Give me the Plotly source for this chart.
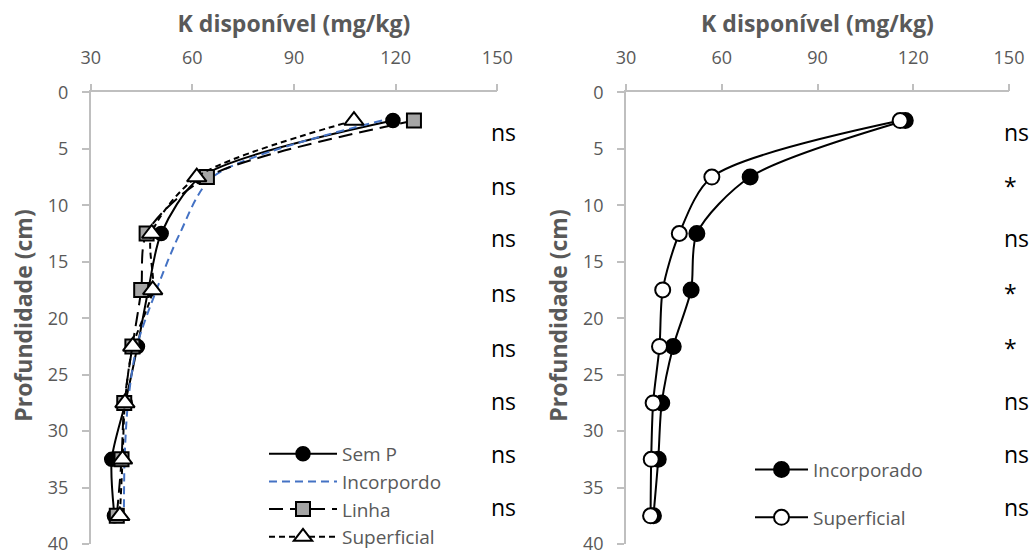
import plotly.graph_objects as go

depth = [2.5, 7.5, 12.5, 17.5, 22.5, 27.5, 32.5, 37.5]

# Left panel
sem_p = [119.2, 62.5, 50.8, 47.0, 43.8, 40.2, 36.2, 37.0]
incorpordo = [116.0, 66.0, 56.3, 49.4, 43.6, 41.0, 40.0, 39.8]
linha = [125.4, 64.3, 46.5, 44.9, 42.3, 39.9, 39.1, 37.7]
superficial_l = [107.7, 61.3, 48.0, 48.3, 42.4, 40.1, 39.4, 38.6]
sig_left = ["ns", "ns", "ns", "ns", "ns", "ns", "ns", "ns"]

# Right panel
incorporado = [117.5, 68.9, 52.2, 50.4, 44.8, 41.2, 40.1, 38.6]
superficial_r = [115.9, 56.9, 46.7, 41.5, 40.5, 38.5, 37.9, 37.7]
sig_right = ["ns", "*", "ns", "*", "*", "ns", "ns", "ns"]
sig_depth = [3.5, 8.3, 12.9, 17.8, 22.6, 27.3, 32.0, 36.7]

xticks = [30, 60, 90, 120, 150]
yticks = [0, 5, 10, 15, 20, 25, 30, 35, 40]

FONT = "Open Sans"
GRAY = "#595959"
AX = "#bfbfbf"

fig = go.Figure()

def line(dash, color="black"):
    return dict(color=color, width=2, dash=dash, shape="spline", smoothing=0.8)

fig.add_trace(go.Scatter(x=sem_p, y=depth, name="Sem P", mode="lines+markers",
                         line=line("solid"),
                         marker=dict(symbol="circle", size=14, color="black",
                                     line=dict(color="black", width=1.5)),
                         xaxis="x", yaxis="y", legend="legend"))
fig.add_trace(go.Scatter(x=incorpordo, y=depth, name="Incorpordo", mode="lines",
                         line=line("8px,5px", "#4472c4"),
                         xaxis="x", yaxis="y", legend="legend"))
fig.add_trace(go.Scatter(x=linha, y=depth, name="Linha", mode="lines+markers",
                         line=line("14px,7px"),
                         marker=dict(symbol="square", size=14, color="#a5a5a5",
                                     line=dict(color="black", width=2)),
                         xaxis="x", yaxis="y", legend="legend"))
fig.add_trace(go.Scatter(x=superficial_l, y=depth, name="Superficial", mode="lines+markers",
                         line=line("6px,4px"),
                         marker=dict(symbol="triangle-up", size=17, color="white",
                                     line=dict(color="black", width=2)),
                         xaxis="x", yaxis="y", legend="legend"))

fig.add_trace(go.Scatter(x=incorporado, y=depth, name="Incorporado", mode="lines+markers",
                         line=line("solid"),
                         marker=dict(symbol="circle", size=15, color="black",
                                     line=dict(color="black", width=2)),
                         xaxis="x2", yaxis="y2", legend="legend2", legendgroup="a"))
fig.add_trace(go.Scatter(x=superficial_r, y=depth, name="Superficial", mode="lines+markers",
                         line=line("solid"),
                         marker=dict(symbol="circle", size=15, color="white",
                                     line=dict(color="black", width=2)),
                         xaxis="x2", yaxis="y2", legend="legend2", legendgroup="b"))

xax = dict(range=[30, 150], tickvals=xticks, side="top", showgrid=False, zeroline=False,
           showline=True, linecolor=AX, linewidth=1.5, ticks="outside", ticklen=7,
           tickcolor=AX, tickwidth=1.5, ticklabelstandoff=12, automargin=False,
           tickfont=dict(family=FONT, size=18, color=GRAY),
           title=dict(text="<b>K disponível (mg/kg)</b>", standoff=6,
                      font=dict(family=FONT, size=23, color=GRAY)))
yax = dict(range=[40, 0], tickvals=yticks, showgrid=False, zeroline=False,
           showline=True, linecolor=AX, linewidth=1.5, ticks="outside", ticklen=7,
           tickcolor=AX, tickwidth=1.5, ticklabelstandoff=10, automargin=False,
           tickfont=dict(family=FONT, size=18, color=GRAY))

W, H = 1035, 556
ytop, ybot = 1 - 93 / H, 1 - 548 / H

annotations = []
for t, d in zip(sig_left, sig_depth):
    annotations.append(dict(text=t, x=489 / W, xref="paper", y=d, yref="y",
                            xanchor="left", yanchor="middle", showarrow=False,
                            font=dict(family=FONT, size=23, color="black")))
for t, d in zip(sig_right, sig_depth):
    annotations.append(dict(text=t, x=1002 / W, xref="paper", y=d, yref="y2",
                            xanchor="left", yanchor="middle", showarrow=False,
                            font=dict(family=FONT, size=23, color="black")))
# y-axis titles
for xpx in (23, 558):
    annotations.append(dict(text="<b>Profundidade (cm)</b>", textangle=-90,
                            x=xpx / W, xref="paper", y=1 - 318 / H, yref="paper",
                            xanchor="center", yanchor="middle", showarrow=False,
                            font=dict(family=FONT, size=23, color=GRAY)))

fig.update_layout(
    width=W, height=H,
    margin=dict(l=0, r=0, t=0, b=0),
    plot_bgcolor="white", paper_bgcolor="white",
    xaxis=dict(xax, domain=[90.7 / W, 497.3 / W], anchor="y"),
    yaxis=dict(yax, domain=[ybot, ytop], anchor="x"),
    xaxis2=dict(xax, domain=[626 / W, 1009 / W], anchor="y2"),
    yaxis2=dict(yax, domain=[ybot, ytop], anchor="x2"),
    legend=dict(x=264 / W, y=1 - 438 / H, xanchor="left", yanchor="top",
                bgcolor="rgba(0,0,0,0)", font=dict(family=FONT, size=19, color=GRAY),
                itemwidth=68, tracegroupgap=0),
    legend2=dict(x=750 / W, y=1 - 454 / H, xanchor="left", yanchor="top",
                 bgcolor="rgba(0,0,0,0)", font=dict(family=FONT, size=19, color=GRAY),
                 traceorder="grouped", tracegroupgap=20, itemwidth=53),
    annotations=annotations,
    showlegend=True,
)

fig.write_html("out.html", config={"displayModeBar": False})

# remove default page margin so the figure sits at the window's top-left corner
with open("out.html", "r", encoding="utf-8") as f:
    html = f.read()
html = html.replace("<head>", "<head><style>html,body{margin:0;padding:0;overflow:hidden;}</style>", 1)
with open("out.html", "w", encoding="utf-8") as f:
    f.write(html)
